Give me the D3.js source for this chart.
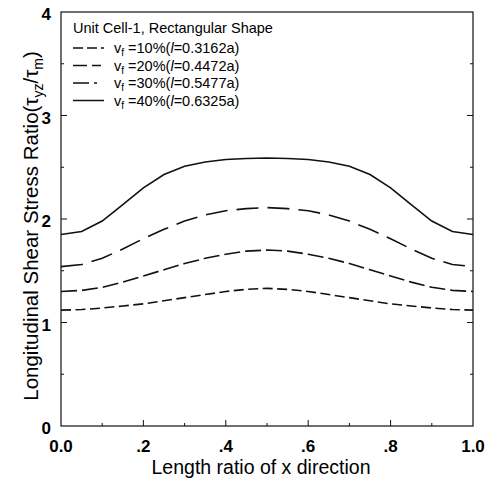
<!DOCTYPE html>
<html lang="en">
<head>
<meta charset="UTF-8">
<title>Longitudinal shear stress ratio</title>
<script src="https://cdn.jsdelivr.net/npm/d3@7"></script>
<style>
    body { margin: 0; background: #fff; }
    svg text { font-family: "Liberation Sans", Arial, Helvetica, sans-serif; fill: #000; }
</style>
</head>
<body>
<svg id="chart" width="485" height="481"></svg>
<script>
// x positions (length ratio of x direction)
var xs = [0, 0.05, 0.1, 0.15, 0.2, 0.25, 0.3, 0.35, 0.4, 0.45, 0.5,
          0.55, 0.6, 0.65, 0.7, 0.75, 0.8, 0.85, 0.9, 0.95, 1.0];

// stress ratio, one array per fibre volume fraction
var vf10 = [1.12, 1.125, 1.14, 1.16, 1.18, 1.21, 1.24, 1.27, 1.30, 1.32, 1.33,
            1.32, 1.30, 1.27, 1.24, 1.21, 1.18, 1.16, 1.14, 1.125, 1.12];
var vf20 = [1.54, 1.56, 1.62, 1.71, 1.81, 1.90, 1.98, 2.04, 2.08, 2.10, 2.11,
            2.10, 2.08, 2.04, 1.98, 1.90, 1.81, 1.71, 1.62, 1.56, 1.54];
var vf30 = [1.30, 1.31, 1.34, 1.39, 1.45, 1.51, 1.57, 1.62, 1.66, 1.69, 1.70,
            1.69, 1.66, 1.62, 1.57, 1.51, 1.45, 1.39, 1.34, 1.31, 1.30];
var vf40 = [1.85, 1.88, 1.98, 2.14, 2.30, 2.43, 2.51, 2.55, 2.575, 2.585, 2.59,
            2.585, 2.575, 2.55, 2.51, 2.43, 2.30, 2.14, 1.98, 1.88, 1.85];

var seriesNames = ["10%", "20%", "30%", "40%"];
var seriesL = ["0.3162a", "0.4472a", "0.5477a", "0.6325a"];
var seriesValues = [vf10, vf20, vf30, vf40];
var seriesDash = ["10,4.5", "22,9", "16,5", null];

var xTickVals = [0, 0.2, 0.4, 0.6, 0.8, 1.0];
var xTickText = ["0.0", ".2", ".4", ".6", ".8", "1.0"];
var yTickVals = [0, 1, 2, 3, 4];

var svg = d3.select("#chart");
var pLeft = 61, pRight = 473, pTop = 12, pBottom = 426;

var x = d3.scaleLinear().domain([0, 1]).range([pLeft, pRight]);
var y = d3.scaleLinear().domain([0, 4]).range([pBottom, pTop]);

// frame
svg.append("rect")
    .attr("x", pLeft).attr("y", pTop)
    .attr("width", pRight - pLeft).attr("height", pBottom - pTop)
    .attr("fill", "none").attr("stroke", "#111").attr("stroke-width", 1.2);

// inward ticks, major + minor
function tickLines(vals, len, isX) {
    vals.forEach(function (v) {
        if (isX) {
            svg.append("line").attr("x1", x(v)).attr("x2", x(v))
                .attr("y1", pBottom).attr("y2", pBottom - len)
                .attr("stroke", "#111").attr("stroke-width", 1);
        } else {
            svg.append("line").attr("x1", pLeft).attr("x2", pLeft + len)
                .attr("y1", y(v)).attr("y2", y(v))
                .attr("stroke", "#111").attr("stroke-width", 1);
            svg.append("line").attr("x1", pRight).attr("x2", pRight - len)
                .attr("y1", y(v)).attr("y2", y(v))
                .attr("stroke", "#111").attr("stroke-width", 1);
        }
    });
}
tickLines([0.2, 0.4, 0.6, 0.8], 6, true);
tickLines([0.1, 0.3, 0.5, 0.7, 0.9], 3, true);
tickLines([1, 2, 3], 6, false);
tickLines([0.5, 1.5, 2.5, 3.5], 3, false);

// tick labels
svg.selectAll(".xlab").data(xTickVals).enter().append("text")
    .attr("x", function (d) { return x(d); })
    .attr("y", 452)
    .attr("text-anchor", "middle")
    .attr("font-size", 17).attr("font-weight", "bold")
    .text(function (d, i) { return xTickText[i]; });

svg.selectAll(".ylab").data(yTickVals).enter().append("text")
    .attr("x", 51)
    .attr("y", function (d) { return y(d) + 8; })
    .attr("text-anchor", "end")
    .attr("font-size", 17).attr("font-weight", "bold")
    .text(function (d) { return d; });

// axis titles
svg.append("text")
    .attr("x", 261).attr("y", 474)
    .attr("text-anchor", "middle")
    .attr("font-size", 19.5)
    .text("Length ratio of x direction");

var yt = svg.append("text")
    .attr("transform", "translate(38,226) rotate(-90)")
    .attr("text-anchor", "middle")
    .attr("font-size", 20.5);
yt.append("tspan").text("Longitudinal Shear Stress Ratio(\u03c4");
yt.append("tspan").attr("font-size", 14).attr("dy", 5).text("yz");
yt.append("tspan").attr("dy", -5).text("/\u03c4");
yt.append("tspan").attr("font-size", 14).attr("dy", 5).text("m");
yt.append("tspan").attr("dy", -5).text(")");

// curves
var line = d3.line()
    .x(function (d, i) { return x(xs[i]); })
    .y(function (d) { return y(d); });

seriesValues.forEach(function (vals, k) {
    svg.append("path")
        .datum(vals)
        .attr("d", line)
        .attr("fill", "none")
        .attr("stroke", "#111")
        .attr("stroke-width", 1.6)
        .attr("stroke-dasharray", seriesDash[k]);
});

// legend
svg.append("text")
    .attr("x", 73).attr("y", 33)
    .attr("font-size", 14.5)
    .text("Unit Cell-1, Rectangular Shape");

var legendDash = ["10,4,10,4,3,10", "14,5,9,10", "16,5,3,10", null];
seriesNames.forEach(function (name, k) {
    var ly = 48 + k * 17.5;
    svg.append("line")
        .attr("x1", 73).attr("x2", 104)
        .attr("y1", ly).attr("y2", ly)
        .attr("stroke", "#111").attr("stroke-width", 1.5)
        .attr("stroke-dasharray", legendDash[k]);
    var t = svg.append("text")
        .attr("x", 114).attr("y", ly + 5)
        .attr("font-size", 14.5);
    t.append("tspan").text("v");
    t.append("tspan").attr("font-size", 10).attr("dy", 3).text("f");
    t.append("tspan").attr("dy", -3).text(" =" + name + "(");
    t.append("tspan").attr("font-style", "italic").text("l");
    t.append("tspan").text("=" + seriesL[k] + ")");
});
</script>
</body>
</html>
